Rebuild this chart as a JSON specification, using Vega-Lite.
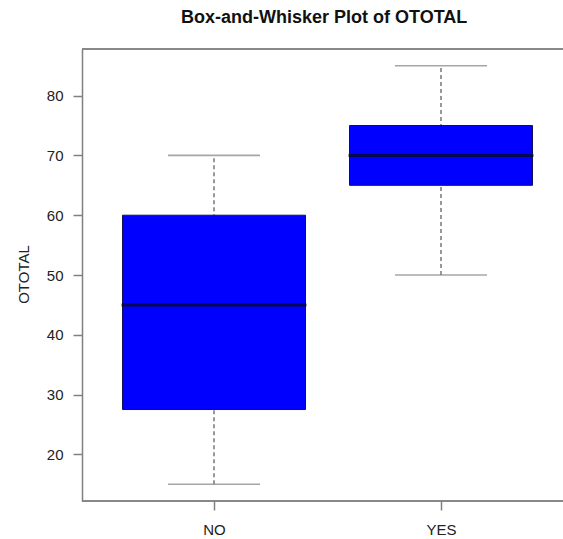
{
  "$schema": "https://vega.github.io/schema/vega-lite/v6.json",
  "autosize": {"type": "none"},
  "width": 491,
  "height": 452,
  "padding": {"left": 82, "top": 49, "right": -10, "bottom": 38},
  "background": "white",
  "title": {
    "text": "Box-and-Whisker Plot of OTOTAL",
    "font": "Liberation Sans",
    "fontSize": 18,
    "fontWeight": "bold",
    "color": "#111111",
    "anchor": "start",
    "frame": "group",
    "baseline": "alphabetic",
    "offset": 7,
    "dx": 99
  },
  "config": {
    "view": {"stroke": null},
    "axis": {
      "grid": false,
      "labelFont": "Liberation Sans",
      "titleFont": "Liberation Sans",
      "labelColor": "#222222",
      "titleColor": "#222222",
      "tickColor": "#808080",
      "domainColor": "#808080",
      "tickWidth": 1.5,
      "domainWidth": 1.5,
      "tickSize": 9
    }
  },
  "data": {
    "values": [
      {"group": "NO", "lower": 15, "q1": 27.5, "median": 45, "q3": 60, "upper": 70},
      {"group": "YES", "lower": 50, "q1": 65, "median": 70, "q3": 75, "upper": 85}
    ]
  },
  "layer": [
    {
      "mark": {"type": "rule", "strokeDash": [4, 3], "color": "#555555", "strokeWidth": 1.2},
      "encoding": {
        "x": {
          "field": "group",
          "type": "nominal",
          "scale": {"type": "point", "range": [132, 359], "padding": 0},
          "axis": {
            "title": null,
            "domain": false,
            "labelAngle": 0,
            "labelFontSize": 15,
            "labelPadding": 12
          }
        },
        "y": {
          "field": "lower",
          "type": "quantitative",
          "scale": {"domain": [12.2, 87.8], "nice": false, "zero": false},
          "axis": {
            "title": "OTOTAL",
            "values": [20, 30, 40, 50, 60, 70, 80],
            "labelFontSize": 15,
            "labelPadding": 10,
            "titleFontSize": 15,
            "titleFontWeight": "normal",
            "titleAngle": -90,
            "titleX": -59,
            "titleY": 225,
            "titleAlign": "center",
            "titleBaseline": "middle"
          }
        },
        "y2": {"field": "upper"}
      }
    },
    {
      "mark": {"type": "tick", "color": "#808080", "thickness": 1.6, "size": 92, "orient": "horizontal"},
      "encoding": {
        "x": {"field": "group", "type": "nominal"},
        "y": {"field": "lower", "type": "quantitative"}
      }
    },
    {
      "mark": {"type": "tick", "color": "#808080", "thickness": 1.6, "size": 92, "orient": "horizontal"},
      "encoding": {
        "x": {"field": "group", "type": "nominal"},
        "y": {"field": "upper", "type": "quantitative"}
      }
    },
    {
      "mark": {"type": "bar", "fill": "#0000FF", "stroke": "#10105a", "strokeWidth": 1, "size": 183},
      "encoding": {
        "x": {"field": "group", "type": "nominal"},
        "y": {"field": "q1", "type": "quantitative"},
        "y2": {"field": "q3"}
      }
    },
    {
      "mark": {"type": "tick", "color": "#0a0a0a", "thickness": 3, "size": 185, "orient": "horizontal"},
      "encoding": {
        "x": {"field": "group", "type": "nominal"},
        "y": {"field": "median", "type": "quantitative"}
      }
    },
    {
      "mark": {"type": "rule", "color": "#808080", "strokeWidth": 1.5},
      "encoding": {"y": {"datum": 87.8, "type": "quantitative"}}
    },
    {
      "mark": {"type": "rule", "color": "#808080", "strokeWidth": 1.5},
      "encoding": {"y": {"datum": 12.2, "type": "quantitative"}}
    }
  ]
}
